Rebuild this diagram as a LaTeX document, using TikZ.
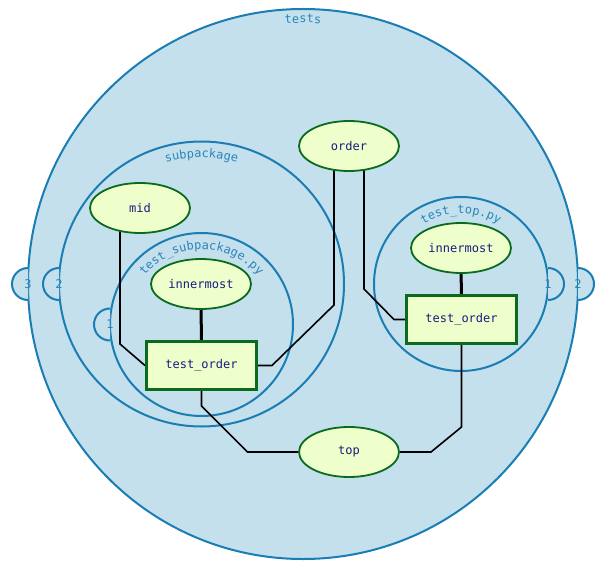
\documentclass[tikz,border=0pt]{standalone}
\usepackage{fontspec}
\setmonofont{DejaVu Sans Mono}
\usetikzlibrary{decorations.text,shapes.geometric,calc}
\definecolor{cfill}{HTML}{C4E0EC}
\definecolor{cline}{HTML}{1A7DB4}
\definecolor{clab}{HTML}{2A85BA}
\definecolor{nfill}{HTML}{EEFFCC}
\definecolor{nline}{HTML}{0A6B1F}
\definecolor{ntext}{HTML}{1A1A80}
\pgfdeclarelayer{bg}
\pgfdeclarelayer{edges}
\pgfsetlayers{bg,edges,main}
\newcommand{\tabL}[4]{% name, x, y, label
  \fill[cfill] (#2,#3+16) arc[start angle=90,end angle=270,radius=16] -- cycle;
  \draw[pkg] (#2,#3+16) arc[start angle=90,end angle=270,radius=16];
  \node[tabnum] (#1) at (#2,#3) {#4};}
\newcommand{\tabR}[4]{%
  \fill[cfill] (#2,#3+16) arc[start angle=90,end angle=-90,radius=16] -- cycle;
  \draw[pkg] (#2,#3+16) arc[start angle=90,end angle=-90,radius=16];
  \node[tabnum] (#1) at (#2,#3) {#4};}
\newcommand{\arclabel}[4]{% cx, cy, r, text
  \path[decorate,decoration={text along path,text align=center,
     text={|\ttfamily\fontsize{12}{14}\selectfont\color{clab}|#4}}]
     (#1-#3,#2) arc[start angle=180,end angle=0,radius=#3];}
\begin{document}
\begin{tikzpicture}[x=1pt,y=1pt,
  font=\ttfamily\fontsize{12}{14}\selectfont,
  ell/.style={ellipse,draw=nline,fill=nfill,line width=1.8pt,text=ntext,
    minimum width=100pt,minimum height=50pt,inner sep=0pt},
  fnbox/.style={rectangle,draw=nline,fill=nfill,line width=3pt,text=ntext,
    minimum width=110pt,minimum height=48pt,inner sep=0pt},
  edge/.style={draw=black,line width=1.6pt},
  boldedge/.style={draw=black,line width=3pt},
  pkg/.style={draw=cline,line width=2pt},
  tabnum/.style={text=clab,inner sep=0pt}]
\useasboundingbox (0,0) rectangle (615,-569);

% nodes
\node[ell] (order) at (349,-146) {order};
\node[ell] (mid) at (140,-208) {mid};
\node[ell] (innersub) at (201,-284) {innermost};
\node[fnbox] (tosub) at (201.5,-365.5) {test\_order};
\node[ell] (innertop) at (461,-248) {innermost};
\node[fnbox] (totop) at (461.5,-319.5) {test\_order};
\node[ell] (top) at (349,-452) {top};

\begin{pgfonlayer}{bg}
  % tests
  \filldraw[fill=cfill,pkg] (303,-284) circle[radius=275];
  \tabL{t3}{28}{-284}{3}
  \tabR{t2r}{578}{-284}{2}
  \arclabel{303}{-284}{261}{tests}
  % subpackage
  \draw[pkg] (201.5,-284) circle[radius=142.5];
  \tabL{s2}{59}{-284}{2}
  \arclabel{201.5}{-284}{126.5}{subpackage}
  % test_subpackage.py
  \draw[pkg] (201.5,-324.5) circle[radius=91.5];
  \tabL{s1}{110}{-324.5}{1}
  \arclabel{201.5}{-324.5}{75}{test{\_}subpackage.py}
  % test_top.py
  \draw[pkg] (461,-284) circle[radius=87];
  \tabR{p1}{548}{-284}{1}
  \arclabel{461}{-284}{70.5}{test{\_}top.py}
\end{pgfonlayer}

\begin{pgfonlayer}{edges}
  \coordinate (b1) at (120,-344);
  \draw[edge] ([xshift=-20pt]mid.center) -- (b1) -- (tosub.west);
  \draw[boldedge] (innersub) -- (tosub);
  \coordinate (b2) at (334,-305);
  \coordinate (b3) at (272,-365.5);
  \draw[edge] ([xshift=-15pt]order.center) -- (b2) -- (b3) -- (tosub.east);
  \coordinate (b4) at (364,-289);
  \coordinate (b5) at (394,-319.5);
  \draw[edge] ([xshift=15pt]order.center) -- (b4) -- (b5) -- (totop.west);
  \draw[boldedge] (innertop) -- (totop);
  \coordinate (b6) at (201.5,-406);
  \coordinate (b7) at (247.5,-452);
  \draw[edge] (tosub.center) -- (b6) -- (b7) -- (top.center);
  \coordinate (b8) at (461.5,-427);
  \coordinate (b9) at (431,-452);
  \draw[edge] (totop.center) -- (b8) -- (b9) -- (top.center);
\end{pgfonlayer}
\end{tikzpicture}
\end{document}
